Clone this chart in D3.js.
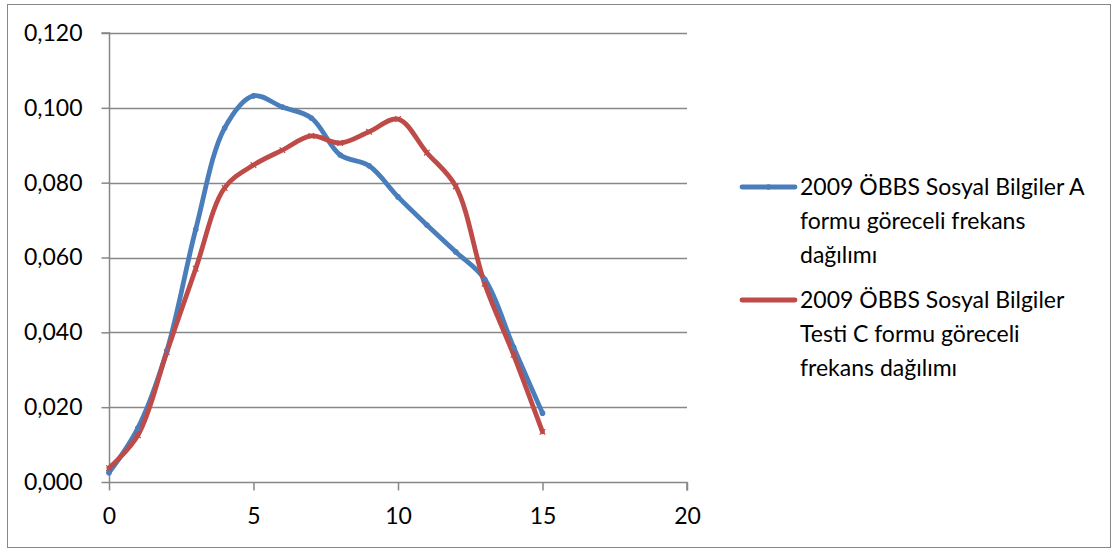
<!DOCTYPE html>
<html>
<head>
<meta charset="utf-8">
<script src="https://cdn.jsdelivr.net/npm/d3@7"></script>
<style>
  html, body { margin: 0; padding: 0; background: #fff; }
  svg { display: block; }
  text { font-family: Lato, "Open Sans", sans-serif; fill: #000; }
</style>
</head>
<body>
<svg id="chart" width="1113" height="549"></svg>
<script>
// Score values (x) shared by both series
const scores = [0, 1, 2, 3, 4, 5, 6, 7, 8, 9, 10, 11, 12, 13, 14, 15];

// Relative frequency, form A
const formA = [0.0025, 0.0144, 0.0350, 0.0675, 0.0946, 0.1032, 0.1002, 0.0973, 0.0874,
               0.0845, 0.0762, 0.0687, 0.0615, 0.0542, 0.0360, 0.0184];

// Relative frequency, form C
const formC = [0.0037, 0.0125, 0.0347, 0.0570, 0.0786, 0.0847, 0.0887, 0.0925, 0.0906,
               0.0936, 0.0970, 0.0880, 0.0790, 0.0530, 0.0340, 0.0134];

const xTicks = [0, 5, 10, 15, 20];
const yTicks = [0, 0.02, 0.04, 0.06, 0.08, 0.10, 0.12];

const seriesNames = [
  ["2009 ÖBBS Sosyal Bilgiler A", "formu göreceli frekans", "dağılımı"],
  ["2009 ÖBBS Sosyal Bilgiler", "Testi C formu göreceli", "frekans dağılımı"]
];
const seriesColors = ["#4A7EBB", "#BE4B48"];

const svg = d3.select("#chart");
const gray = "#878787";
const fontSize = "23px";

// outer chart border
svg.append("rect")
  .attr("x", 7.5).attr("y", 4.5)
  .attr("width", 1103).attr("height", 543)
  .attr("fill", "none").attr("stroke", gray).attr("stroke-width", 1);

const plot = { left: 109, right: 687, top: 33, bottom: 482 };

const x = d3.scaleLinear().domain([0, 20]).range([plot.left, plot.right]);
const y = d3.scaleLinear().domain([0, 0.12]).range([plot.bottom, plot.top]);

const fmt = v => d3.format(".3f")(v).replace(".", ",");

// horizontal gridlines
svg.append("g")
  .selectAll("line")
  .data(yTicks.filter(t => t > 0))
  .join("line")
  .attr("x1", plot.left).attr("x2", plot.right)
  .attr("y1", d => Math.round(y(d)) + 0.5).attr("y2", d => Math.round(y(d)) + 0.5)
  .attr("stroke", gray).attr("stroke-width", 1.5);

// y axis
const yAxis = svg.append("g")
  .attr("transform", `translate(${plot.left + 0.5},0)`)
  .call(d3.axisLeft(y).tickValues(yTicks).tickFormat(fmt).tickSize(8).tickPadding(19));
yAxis.selectAll("path, line").attr("stroke", gray).attr("stroke-width", 1.5);
yAxis.selectAll("text").style("font-size", fontSize).style("font-family", "Lato, sans-serif");
yAxis.select(".domain").attr("d", `M-8,${y(0.12)}H0V${y(0)}`);

// x axis
const xAxis = svg.append("g")
  .attr("transform", `translate(0,${plot.bottom + 0.5})`)
  .call(d3.axisBottom(x).tickValues(xTicks).tickSize(8).tickPadding(17));
xAxis.selectAll("path, line").attr("stroke", gray).attr("stroke-width", 1.5);
xAxis.selectAll("text").style("font-size", fontSize).style("font-family", "Lato, sans-serif");
xAxis.select(".domain").attr("d", `M${x(0)},0H${x(20)}V8`);

// smoothed series lines
const series = [formA, formC];
const line = d3.line()
  .x((d, i) => x(scores[i]))
  .y(d => y(d))
  .curve(d3.curveCatmullRom.alpha(0.5));

series.forEach((vals, si) => {
  svg.append("path")
    .datum(vals)
    .attr("d", line)
    .attr("fill", "none")
    .attr("stroke", seriesColors[si])
    .attr("stroke-width", 4.8)
    .attr("stroke-linejoin", "round")
    .attr("stroke-linecap", "round");
});

// point markers
svg.append("g").selectAll("circle")
  .data(formA)
  .join("circle")
  .attr("cx", (d, i) => x(scores[i]))
  .attr("cy", d => y(d))
  .attr("r", 2.8)
  .attr("fill", seriesColors[0]);

svg.append("g").selectAll("path")
  .data(formC)
  .join("path")
  .attr("d", (d, i) => {
    const cx = x(scores[i]), cy = y(d), s = 2.8;
    return `M${cx - s},${cy - s}L${cx + s},${cy + s}M${cx - s},${cy + s}L${cx + s},${cy - s}`;
  })
  .attr("stroke", seriesColors[1])
  .attr("stroke-width", 1.2);

// legend
const legendTop = [187, 300];
const lineGap = 34;
seriesNames.forEach((lines, si) => {
  const g = svg.append("g");
  const ly = legendTop[si];
  g.append("line")
    .attr("x1", 742).attr("x2", 795)
    .attr("y1", ly).attr("y2", ly)
    .attr("stroke", seriesColors[si]).attr("stroke-width", 4.8)
    .attr("stroke-linecap", "round");
  if (si === 0) {
    g.append("circle").attr("cx", 768.5).attr("cy", ly).attr("r", 2.8).attr("fill", seriesColors[si]);
  }
  lines.forEach((t, li) => {
    g.append("text")
      .attr("x", 800)
      .attr("y", ly + li * lineGap)
      .attr("dy", "0.35em")
      .style("font-size", fontSize)
      .text(t);
  });
});
</script>
</body>
</html>
